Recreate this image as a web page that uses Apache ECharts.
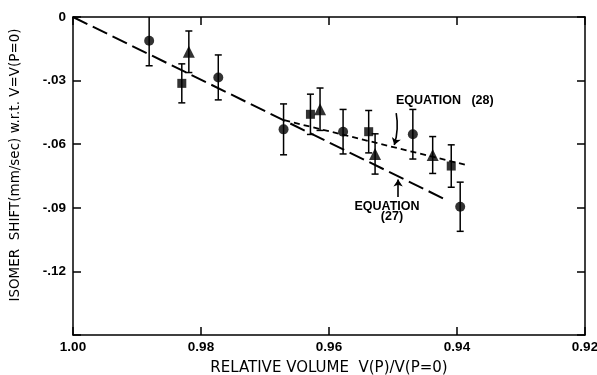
<!DOCTYPE html>
<html>
<head>
<meta charset="utf-8">
<script src="https://cdn.jsdelivr.net/npm/echarts@6/dist/echarts.min.js"></script>
<style>
  html, body { margin: 0; padding: 0; background: #fff; }
  #chart { width: 597px; height: 375px; }
</style>
</head>
<body>
<div id="chart"></div>
<script>
// measured points, relative volume vs isomer shift
const circleX = [0.9881, 0.9773, 0.9671, 0.9578, 0.9469, 0.9395];
const circleY = [-0.0112, -0.0285, -0.0530, -0.0541, -0.0553, -0.0895];
const circleErr = [0.0118, 0.0106, 0.0120, 0.0105, 0.0117, 0.0116];

const squareX = [0.9830, 0.9629, 0.9538, 0.9409];
const squareY = [-0.0313, -0.0459, -0.0541, -0.0703];
const squareErr = [0.0092, 0.0095, 0.0100, 0.0100];

const triangleX = [0.9819, 0.9614, 0.9528, 0.9438];
const triangleY = [-0.0164, -0.0435, -0.0646, -0.0651];
const triangleErr = [0.0098, 0.0100, 0.0095, 0.0087];

// theory lines
const eq27X = [1.00, 0.942];
const eq27Y = [0, -0.0858];
const eq28X = [0.967, 0.9383];
const eq28Y = [-0.0487, -0.0700];

// annotation texts (centre of each text, in data units)
const noteText = ['EQUATION   (28)', 'EQUATION', '(27)'];
const noteX = [0.9419, 0.95094, 0.95016];
const noteY = [-0.0393, -0.0892, -0.0943];

const font = 'Liberation Sans';
const titleFont = 'DejaVu Sans';
const ink = '#000';

function pairs(xs, ys) {
  return xs.map((x, i) => [x, ys[i]]);
}
function errRows(xs, ys, es) {
  return xs.map((x, i) => [x, ys[i] - es[i], ys[i] + es[i]]);
}

const errData = []
  .concat(errRows(circleX, circleY, circleErr))
  .concat(errRows(squareX, squareY, squareErr))
  .concat(errRows(triangleX, triangleY, triangleErr));

const chart = echarts.init(document.getElementById('chart'));

const axisX = (pos, showLabel) => ({
  type: 'value',
  position: pos,
  min: 0.92,
  max: 1.00,
  interval: 0.02,
  inverse: true,
  axisLine: { show: true, onZero: false, lineStyle: { color: ink, width: 1.5 } },
  axisTick: { show: true, inside: true, length: 8, lineStyle: { color: ink, width: 1.5 } },
  splitLine: { show: false },
  axisLabel: {
    show: showLabel, margin: 5, color: ink, fontFamily: font, fontSize: 13.5, fontWeight: 'bold',
    formatter: v => v.toFixed(2)
  }
});

const axisY = (pos, showLabel) => ({
  type: 'value',
  position: pos,
  min: -0.15,
  max: 0,
  interval: 0.03,
  axisLine: { show: true, onZero: false, lineStyle: { color: ink, width: 1.5 } },
  axisTick: { show: true, inside: true, length: 8, lineStyle: { color: ink, width: 1.5 } },
  splitLine: { show: false },
  axisLabel: {
    show: showLabel, margin: 7, color: ink, fontFamily: font, fontSize: 13.5, fontWeight: 'bold',
    formatter: v => {
      if (Math.abs(v) < 1e-9) return '0';
      if (v < -0.14) return '';
      return '-' + Math.abs(v).toFixed(2).slice(1);
    }
  }
});

const option = {
  animation: false,
  backgroundColor: '#fff',
  grid: { left: 73, right: 12, top: 17, bottom: 40, outerBoundsMode: 'none' },
  xAxis: [
    Object.assign(axisX('bottom', true), {
      name: 'RELATIVE VOLUME  V(P)/V(P=0)',
      nameLocation: 'middle',
      nameGap: 26,
      nameTextStyle: { color: ink, fontFamily: titleFont, fontSize: 15 }
    }),
    axisX('top', false)
  ],
  yAxis: [
    Object.assign(axisY('left', true), {
      name: 'ISOMER  SHIFT(mm/sec) w.r.t. V=V(P=0)',
      nameLocation: 'middle',
      nameGap: 51,
      nameTextStyle: { color: ink, fontFamily: titleFont, fontSize: 13.5, padding: [0, 0, 0, 22] }
    }),
    axisY('right', false)
  ],
  series: [
    {
      type: 'line',
      data: pairs(eq27X, eq27Y),
      symbol: 'none',
      lineStyle: { color: ink, width: 2, type: [16, 6] },
      z: 2
    },
    {
      type: 'line',
      data: pairs(eq28X, eq28Y),
      symbol: 'none',
      lineStyle: { color: ink, width: 1.8, type: [6, 4] },
      z: 2
    },
    {
      type: 'custom',
      clip: true,
      data: errData,
      z: 3,
      renderItem: function (params, api) {
        const x = api.value(0);
        const lo = api.coord([x, api.value(1)]);
        const hi = api.coord([x, api.value(2)]);
        const cap = 3.5;
        const st = { stroke: ink, lineWidth: 1.5 };
        return {
          type: 'group',
          children: [
            { type: 'line', shape: { x1: lo[0], y1: lo[1], x2: hi[0], y2: hi[1] }, style: st },
            { type: 'line', shape: { x1: lo[0] - cap, y1: lo[1], x2: lo[0] + cap, y2: lo[1] }, style: st },
            { type: 'line', shape: { x1: hi[0] - cap, y1: hi[1], x2: hi[0] + cap, y2: hi[1] }, style: st }
          ]
        };
      }
    },
    {
      type: 'scatter',
      data: pairs(circleX, circleY),
      symbol: 'circle',
      symbolSize: 10,
      itemStyle: { color: ink },
      z: 4
    },
    {
      type: 'scatter',
      data: pairs(squareX, squareY),
      symbol: 'rect',
      symbolSize: 9,
      itemStyle: { color: ink },
      z: 4
    },
    {
      type: 'scatter',
      data: pairs(triangleX, triangleY),
      symbol: 'triangle',
      symbolSize: 12,
      itemStyle: { color: ink },
      z: 4
    },
    {
      // annotation arrows
      type: 'lines',
      coordinateSystem: 'cartesian2d',
      symbol: ['none', 'arrow'],
      symbolSize: 7,
      lineStyle: { color: ink, width: 1.6, opacity: 1, curveness: 0.12 },
      data: [
        { coords: [[0.9495, -0.0453], [0.9498, -0.0604]] },
        { coords: [[0.9492, -0.0849], [0.9492, -0.0766]], lineStyle: { curveness: 0 } }
      ],
      z: 5
    },
    {
      // annotation labels
      type: 'custom',
      silent: true,
      clip: false,
      data: noteText.map((t, i) => [noteX[i], noteY[i], i]),
      z: 5,
      renderItem: function (params, api) {
        const p = api.coord([api.value(0), api.value(1)]);
        return {
          type: 'text',
          x: p[0],
          y: p[1],
          style: {
            text: noteText[api.value(2)],
            fill: ink,
            font: 'bold 12.5px "' + font + '"',
            align: 'center',
            verticalAlign: 'middle'
          }
        };
      }
    }
  ]
};

chart.setOption(option);
</script>
</body>
</html>
